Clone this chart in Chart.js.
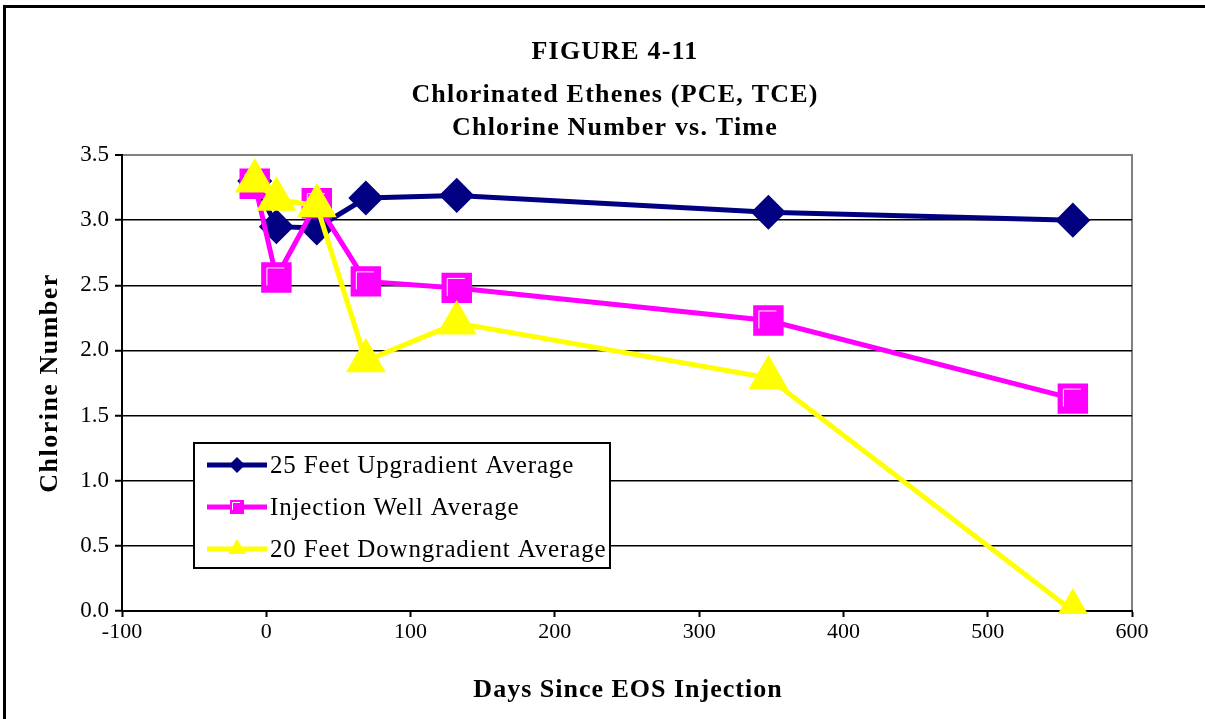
<!DOCTYPE html>
<html>
<head>
<meta charset="utf-8">
<script src="https://cdn.jsdelivr.net/npm/chart.js@4.4.1/dist/chart.umd.min.js"></script>
<style>
  html, body { margin: 0; padding: 0; background: #fff; }
  #frame { position: absolute; left: 3px; top: 5px; width: 1220px; height: 730px;
           border-left: 3px solid #000; border-top: 3px solid #000; }
  #wrap { position: absolute; left: 0; top: 0; width: 1205px; height: 719px; }
</style>
</head>
<body>
<div id="frame"></div>
<div id="wrap"><canvas id="chart" width="1205" height="719"></canvas></div>
<script>
// Datos
const titleLines = ['FIGURE 4-11', 'Chlorinated Ethenes (PCE, TCE)', 'Chlorine Number vs. Time'];
const seriesNames = ['25 Feet Upgradient Average', 'Injection Well Average', '20 Feet Downgradient Average'];
const days = [-8, 7, 35, 69, 132, 348, 559];
const upgradient = [3.30, 2.95, 2.94, 3.17, 3.19, 3.06, 3.00];
const injection = [3.28, 2.56, 3.13, 2.53, 2.48, 2.23, 1.63];
const downgradient = [3.30, 3.16, 3.11, 1.92, 2.21, 1.79, 0.00];
const xTitle = 'Days Since EOS Injection';
const yTitle = 'Chlorine Number';

const SERIF = '"Liberation Serif", "Times New Roman", serif';
const NAVY = '#000080';
const MAGENTA = '#ff00ff';
const YELLOW = '#ffff00';

function toPoints(values) {
  return days.map((d, i) => ({ x: d, y: values[i] }));
}

// Marco gris del área de trazado
const plotFrame = {
  id: 'plotFrame',
  beforeDraw(chart) {
    const { ctx, chartArea: a } = chart;
    ctx.save();
    ctx.strokeStyle = '#808080';
    ctx.lineWidth = 2;
    ctx.strokeRect(a.left, a.top, a.right - a.left, a.bottom - a.top);
    ctx.restore();
  }
};

// Título en tres líneas y títulos de los ejes (con espaciado de letras)
const textBlock = {
  id: 'textBlock',
  afterDraw(chart) {
    const ctx = chart.ctx;
    const a = chart.chartArea;
    const ys = [52, 95, 128];
    ctx.save();
    ctx.fillStyle = '#000';
    ctx.font = 'bold 26px ' + SERIF;
    ctx.letterSpacing = '1.2px';
    ctx.textAlign = 'center';
    ctx.textBaseline = 'middle';
    titleLines.forEach((t, i) => ctx.fillText(t, 615, ys[i]));
    // Eje X
    ctx.letterSpacing = '1px';
    ctx.fillText(xTitle, (a.left + a.right) / 2 + 1, 690);
    // Eje Y
    ctx.letterSpacing = '1.5px';
    ctx.translate(50, (a.top + a.bottom) / 2);
    ctx.rotate(-Math.PI / 2);
    ctx.fillText(yTitle, 0, 0);
    ctx.restore();
  }
};

// Línea blanca interior de los cuadrados (estilo Excel)
const squareHighlight = {
  id: 'squareHighlight',
  afterDatasetDraw(chart, args) {
    if (args.index !== 1) return;
    const ctx = chart.ctx;
    ctx.save();
    ctx.strokeStyle = '#fff';
    ctx.lineWidth = 1;
    args.meta.data.forEach(p => {
      const s = 10;
      ctx.beginPath();
      ctx.moveTo(p.x - s + 0.5, p.y + s - 2);
      ctx.lineTo(p.x - s + 0.5, p.y - s + 0.5);
      ctx.lineTo(p.x + s - 2, p.y - s + 0.5);
      ctx.stroke();
    });
    ctx.restore();
  }
};

function drawMarker(ctx, style, x, y, color) {
  ctx.fillStyle = color;
  ctx.beginPath();
  if (style === 'rectRot') {
    ctx.moveTo(x, y - 8); ctx.lineTo(x + 8, y); ctx.lineTo(x, y + 8); ctx.lineTo(x - 8, y);
  } else if (style === 'rect') {
    ctx.rect(x - 7, y - 7, 14, 14);
  } else {
    ctx.moveTo(x, y - 10); ctx.lineTo(x + 9, y + 5); ctx.lineTo(x - 9, y + 5);
  }
  ctx.closePath();
  ctx.fill();
  if (style === 'rect') {
    ctx.strokeStyle = '#fff';
    ctx.lineWidth = 1;
    ctx.beginPath();
    ctx.moveTo(x - 4.5, y + 3);
    ctx.lineTo(x - 4.5, y - 4.5);
    ctx.lineTo(x + 3, y - 4.5);
    ctx.stroke();
  }
}

// Leyenda dentro del área de trazado
const boxLegend = {
  id: 'boxLegend',
  afterDraw(chart) {
    const ctx = chart.ctx;
    const box = { x: 194, y: 443, w: 416, h: 125 };
    ctx.save();
    ctx.fillStyle = '#fff';
    ctx.fillRect(box.x, box.y, box.w, box.h);
    ctx.strokeStyle = '#000';
    ctx.lineWidth = 2;
    ctx.strokeRect(box.x, box.y, box.w, box.h);
    chart.data.datasets.forEach((ds, i) => {
      const y = 465 + i * 42;
      ctx.strokeStyle = ds.borderColor;
      ctx.lineWidth = 5;
      ctx.beginPath();
      ctx.moveTo(207, y);
      ctx.lineTo(267, y);
      ctx.stroke();
      drawMarker(ctx, ds.pointStyle, 237, y, ds.pointBackgroundColor);
      ctx.fillStyle = '#000';
      ctx.font = '25px ' + SERIF;
      ctx.letterSpacing = '0.85px';
      ctx.textAlign = 'left';
      ctx.textBaseline = 'middle';
      ctx.fillText(ds.label, 270, y + 1);
    });
    ctx.restore();
  }
};

const ctx = document.getElementById('chart').getContext('2d');
new Chart(ctx, {
  type: 'line',
  data: {
    datasets: [
      {
        label: seriesNames[0],
        data: toPoints(upgradient),
        borderColor: NAVY,
        backgroundColor: NAVY,
        pointBackgroundColor: NAVY,
        pointBorderColor: NAVY,
        pointStyle: 'rectRot',
        pointRadius: 14,
        borderWidth: 5,
        order: 3,
      },
      {
        label: seriesNames[1],
        data: toPoints(injection),
        borderColor: MAGENTA,
        backgroundColor: MAGENTA,
        pointBackgroundColor: MAGENTA,
        pointBorderColor: MAGENTA,
        pointStyle: 'rect',
        pointRadius: 18,
        borderWidth: 5,
        order: 2,
      },
      {
        label: seriesNames[2],
        data: toPoints(downgradient),
        borderColor: YELLOW,
        backgroundColor: YELLOW,
        pointBackgroundColor: YELLOW,
        pointBorderColor: YELLOW,
        pointStyle: 'triangle',
        pointRadius: 18,
        borderWidth: 5,
        order: 1,
        clip: { left: 20, top: 20, right: 20, bottom: 3 },
      },
    ],
  },
  options: {
    responsive: false,
    animation: false,
    events: [],
    layout: { padding: { left: 30, right: 73, top: 155, bottom: 10 } },
    plugins: {
      legend: { display: false },
      tooltip: { enabled: false },
      title: { display: false },
    },
    elements: {
      line: { tension: 0 },
      point: { borderWidth: 1 },
    },
    scales: {
      x: {
        type: 'linear',
        min: -100,
        max: 600,
        afterFit(scale) { scale.height = 98; },
        ticks: { stepSize: 100, color: '#000', font: { family: SERIF, size: 22 }, padding: 2 },
        grid: { display: true, drawOnChartArea: false, drawTicks: true, tickLength: 6, tickColor: '#000', tickWidth: 2 },
        border: { color: '#000', width: 2 },
      },
      y: {
        min: 0,
        max: 3.5,
        afterFit(scale) { scale.width = 92; },
        ticks: { stepSize: 0.5, color: '#000', font: { family: SERIF, size: 23 }, padding: 6,
                 callback: v => v.toFixed(1) },
        grid: {
          color: c => (c.tick && c.tick.value === 3.5 ? '#808080' : '#000'),
          lineWidth: c => (c.tick && c.tick.value === 3.5 ? 2 : 1.5),
          tickLength: 7, tickColor: '#000', tickWidth: 2,
        },
        border: { color: '#000', width: 2 },
      },
    },
  },
  plugins: [plotFrame, squareHighlight, boxLegend, textBlock],
});
</script>
</body>
</html>
